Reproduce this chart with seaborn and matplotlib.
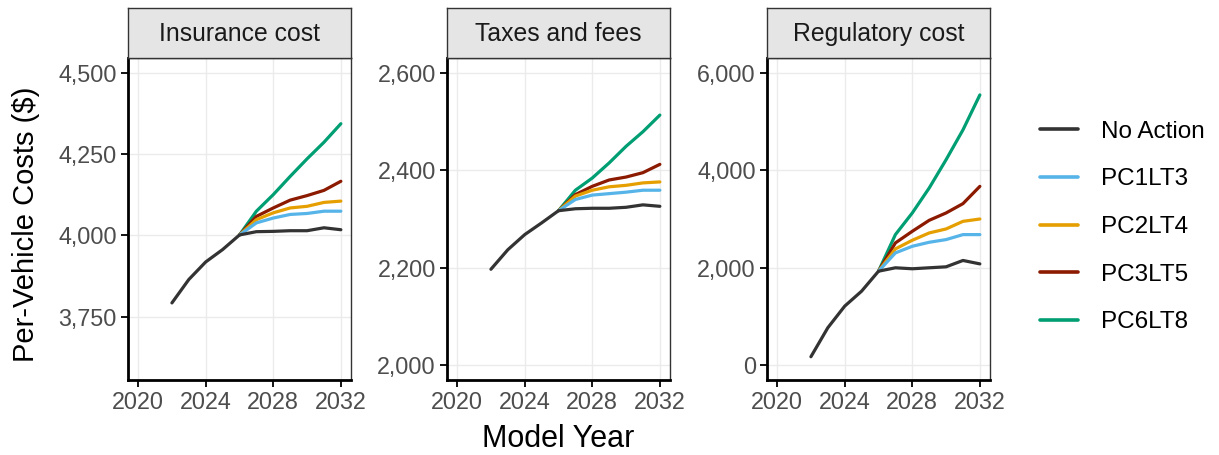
import pandas as pd
import numpy as np
import matplotlib
matplotlib.use("Agg")
import matplotlib.pyplot as plt
from matplotlib.lines import Line2D
from matplotlib.ticker import StrMethodFormatter
import seaborn as sns

# Datos
years_base = list(range(2022, 2033))
years_pol = list(range(2026, 2033))

scenarios = ["No Action", "PC1LT3", "PC2LT4", "PC3LT5", "PC6LT8"]
colores = ["#333333", "#56B4E9", "#E69F00", "#8B1A00", "#009E73"]
paneles = ["Insurance cost", "Taxes and fees", "Regulatory cost"]

# Insurance cost
ins_no_action = [3792, 3864, 3918, 3956, 4001, 4011, 4012, 4014, 4014, 4023, 4017]
ins_pc1 = [4001, 4038, 4053, 4064, 4067, 4074, 4074]
ins_pc2 = [4001, 4048, 4069, 4084, 4089, 4101, 4105]
ins_pc3 = [4001, 4058, 4084, 4108, 4122, 4138, 4166]
ins_pc6 = [4001, 4074, 4125, 4181, 4235, 4286, 4343]

# Taxes and fees
tax_no_action = [2197, 2237, 2268, 2292, 2317, 2321, 2322, 2322, 2324, 2329, 2326]
tax_pc1 = [2317, 2340, 2349, 2352, 2355, 2359, 2359]
tax_pc2 = [2317, 2347, 2359, 2366, 2369, 2374, 2376]
tax_pc3 = [2317, 2350, 2367, 2380, 2386, 2395, 2412]
tax_pc6 = [2317, 2359, 2384, 2415, 2449, 2479, 2513]

# Regulatory cost
reg_no_action = [177, 771, 1214, 1521, 1930, 2000, 1980, 2000, 2020, 2150, 2080]
reg_pc1 = [1930, 2305, 2441, 2523, 2578, 2680, 2680]
reg_pc2 = [1930, 2387, 2564, 2714, 2796, 2952, 3000]
reg_pc3 = [1930, 2510, 2748, 2973, 3124, 3315, 3669]
reg_pc6 = [1930, 2680, 3124, 3635, 4215, 4827, 5543]

ylims = [(3600, 4500), (2000, 2600), (0, 6000)]
yticks = [[3750, 4000, 4250, 4500], [2000, 2200, 2400, 2600], [0, 2000, 4000, 6000]]

series = {
    "Insurance cost": [ins_no_action, ins_pc1, ins_pc2, ins_pc3, ins_pc6],
    "Taxes and fees": [tax_no_action, tax_pc1, tax_pc2, tax_pc3, tax_pc6],
    "Regulatory cost": [reg_no_action, reg_pc1, reg_pc2, reg_pc3, reg_pc6],
}

filas = []
for panel in paneles:
    for esc, vals in zip(scenarios, series[panel]):
        yrs = years_base if esc == "No Action" else years_pol
        for y, v in zip(yrs, vals):
            filas.append({"panel": panel, "Escenario": esc, "year": y, "cost": v})
df = pd.DataFrame(filas)

sns.set_style("white")
plt.rcParams["font.family"] = ["Liberation Sans", "DejaVu Sans"]

paleta = dict(zip(scenarios, colores))

fig = plt.figure(figsize=(12.19, 4.55), dpi=100)
W, H = 1219, 455
lefts = [128, 447, 767]
ancho = 223
top_plot, bot_plot = 58, 380
alto_strip = 50

for i, panel in enumerate(paneles):
    ax = fig.add_axes([lefts[i] / W, 1 - bot_plot / H, ancho / W, (bot_plot - top_plot) / H])
    sub = df[df["panel"] == panel]
    sns.lineplot(data=sub, x="year", y="cost", hue="Escenario", hue_order=scenarios[::-1],
                 palette=paleta, linewidth=2.3, legend=False, ax=ax, zorder=3)
    lo, hi = ylims[i]
    ax.set_ylim(lo - 0.05 * (hi - lo), hi + 0.05 * (hi - lo))
    ax.set_xlim(2020 - 0.6, 2032 + 0.6)
    ax.set_xticks([2020, 2024, 2028, 2032])
    ax.set_yticks(yticks[i])
    ax.yaxis.set_major_formatter(StrMethodFormatter("{x:,.0f}"))
    ax.grid(True, color="#EBEBEB", linewidth=1.0, zorder=0)
    ax.set_axisbelow(True)
    ax.tick_params(axis="both", direction="out", length=5, width=1.3, color="black",
                   labelsize=16.8, labelcolor="#4D4D4D", pad=3, left=True, bottom=True)
    for s in ["left", "bottom"]:
        ax.spines[s].set_color("black")
        ax.spines[s].set_linewidth(2.0)
    for s in ["top", "right"]:
        ax.spines[s].set_color("#333333")
        ax.spines[s].set_linewidth(1.0)
    ax.set_xlabel("")
    ax.set_ylabel("")

    # franja del titulo del panel
    ax_s = fig.add_axes([lefts[i] / W, 1 - top_plot / H, ancho / W, alto_strip / H])
    ax_s.set_facecolor("#E5E5E5")
    ax_s.set_xticks([])
    ax_s.set_yticks([])
    for s in ax_s.spines.values():
        s.set_color("#333333")
        s.set_linewidth(1.0)
    ax_s.text(0.5, 0.48, panel, ha="center", va="center", fontsize=17.8,
              color="#1A1A1A", transform=ax_s.transAxes)

fig.text(558 / W, 1 - 439 / H, "Model Year", ha="center", va="center", fontsize=22, color="black")
fig.text(26 / W, 1 - 224 / H, "Per-Vehicle Costs ($)", ha="center", va="center",
         rotation=90, fontsize=21, color="black")

handles = [Line2D([0], [0], color=c, linewidth=2.6) for c in colores]
fig.legend(handles, scenarios, loc="center left", bbox_to_anchor=(1040 / W, 1 - 227 / H),
           frameon=False, fontsize=17.5, handlelength=1.55, handletextpad=0.95,
           labelspacing=1.05, borderaxespad=0, borderpad=0, labelcolor="black")

fig.savefig("out.png", dpi=100)
